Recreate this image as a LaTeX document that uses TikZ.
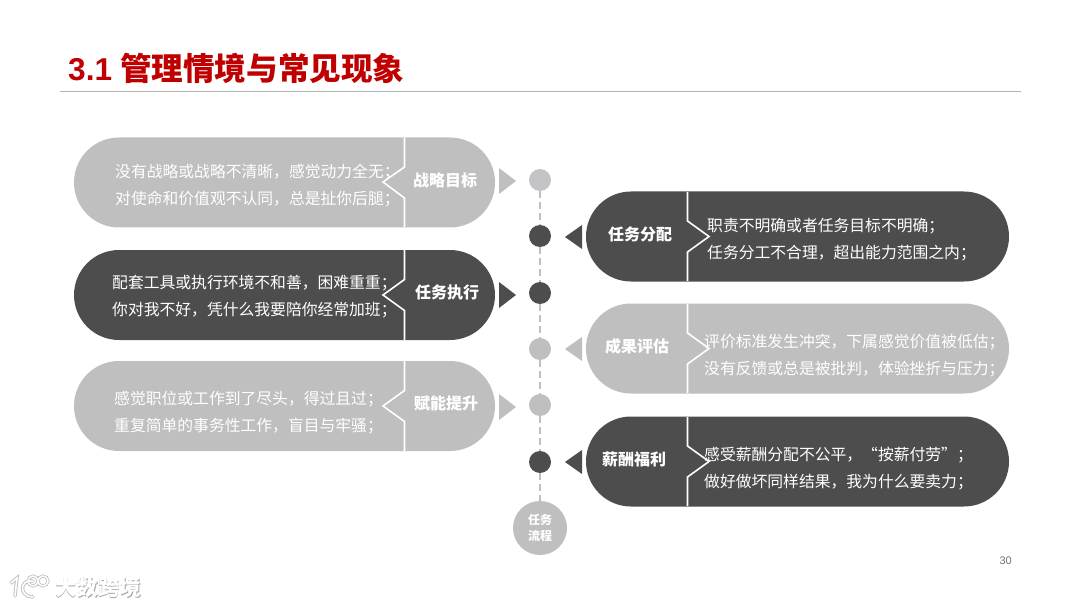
\documentclass[tikz,border=0pt]{standalone}
\usepackage{fontspec}
\setmainfont{Noto Sans CJK SC}
\newfontfamily\latinfont{Liberation Sans}
\usetikzlibrary{shapes.misc}
\definecolor{pilldark}{HTML}{4D4D4D}
\definecolor{pilllight}{HTML}{BFBFBF}
\definecolor{dotlight}{HTML}{C4C4C8}
\definecolor{titlered}{HTML}{C00000}
\tikzset{
  pill/.style={rounded rectangle, minimum width=421pt, minimum height=90pt, inner sep=0pt},
  dot/.style={circle, minimum size=22pt, inner sep=0pt},
  bodytext/.style={text=white, align=left, font=\fontsize{15.8pt}{27pt}\selectfont, inner sep=0pt},
  tagtext/.style={text=white, align=center, font=\fontsize{16pt}{20pt}\selectfont\bfseries, inner sep=0pt},
  notch/.style={white, line width=1.6pt},
  marktext/.style={align=center, font=\fontsize{21.5pt}{24pt}\selectfont\bfseries, inner sep=0pt},
  flowline/.style={pilllight, line width=1.5pt, dash pattern=on 7pt off 4pt}
}
\begin{document}
\begin{tikzpicture}[x=1pt, y=-1pt]
\useasboundingbox (0,0) rectangle (1080,607);
\fill[white] (0,0) rectangle (1080,607);

\node[anchor=west, text=titlered, font=\fontsize{31.6pt}{34pt}\selectfont\bfseries, inner sep=0pt] at (68,68) (title) {{\latinfont 3.1}\hspace{8pt}管理情境与常见现象};
\coordinate (ruleleft) at (60,91.5);
\coordinate (ruleright) at (1021,91.5);
\draw[color=black!30, line width=1pt] (ruleleft) -- (ruleright);

\node[dot, fill=dotlight] at (540,180) (dota) {};
\node[dot, fill=pilldark] at (540,236) (dotb) {};
\node[dot, fill=pilldark] at (540,293) (dotc) {};
\node[dot, fill=pilllight] at (540,349) (dotd) {};
\node[dot, fill=pilllight] at (540,405) (dote) {};
\node[dot, fill=pilldark] at (540,462) (dotf) {};
\node[circle, fill=pilllight, minimum size=54pt, tagtext, inner sep=0pt, font=\fontsize{12pt}{16pt}\selectfont\bfseries] at (540,528) (flow) {任务\\流程};

\draw[flowline] (dota) -- (dotb);
\draw[flowline] (dotb) -- (dotc);
\draw[flowline] (dotc) -- (dotd);
\draw[flowline] (dotd) -- (dote);
\draw[flowline] (dote) -- (dotf);
\draw[flowline] (dotf) -- (flow);

\fill[pilllight] (499,168) -- (516,181) -- (499,194) -- cycle;
\fill[pilldark] (499,282) -- (516,295) -- (499,308) -- cycle;
\fill[pilllight] (499,394) -- (516,407) -- (499,420) -- cycle;
\fill[pilldark] (582,225) -- (565,237) -- (582,249) -- cycle;
\fill[pilllight] (582,337) -- (565,349) -- (582,361) -- cycle;
\fill[pilldark] (582,450) -- (565,462) -- (582,474) -- cycle;

\node[pill, fill=pilllight] at (284.5,182.5) (goalpill) {};
\draw[notch] (404.5,137.5) -- (404.5,167) -- (383,182) -- (404.5,198) -- (404.5,227.5);
\node[bodytext, anchor=west] at (115,185.5) (goaltext) {没有战略或战略不清晰，感觉动力全无；\\对使命和价值观不认同，总是扯你后腿；};
\node[tagtext] at (445,180) (goaltag) {战略目标};

\node[pill, fill=pilldark] at (284.5,295) (dotaskpill) {};
\draw[notch] (404.5,250) -- (404.5,279.5) -- (383,295) -- (404.5,310.5) -- (404.5,340);
\node[bodytext, anchor=west] at (112,297) (dotasktext) {配套工具或执行环境不和善，困难重重；\\你对我不好，凭什么我要陪你经常加班；};
\node[tagtext] at (447,292.5) (dotasktag) {任务执行};

\node[pill, fill=pilllight] at (284.5,406) (growpill) {};
\draw[notch] (404.5,361) -- (404.5,390.5) -- (383,406) -- (404.5,421.5) -- (404.5,451);
\node[bodytext, anchor=west] at (114,413) (growtext) {感觉职位或工作到了尽头，得过且过；\\重复简单的事务性工作，盲目与牢骚；};
\node[tagtext] at (446,403.5) (growtag) {赋能提升};

\node[pill, fill=pilldark, minimum width=423pt] at (797.5,236.5) (assignpill) {};
\draw[notch] (687.5,192) -- (687.5,221) -- (709,236.5) -- (687.5,252) -- (687.5,281);
\node[bodytext, anchor=west] at (707,240) (assigntext) {职责不明确或者任务目标不明确；\\任务分工不合理，超出能力范围之内；};
\node[tagtext] at (640,234.5) (assigntag) {任务分配};

\node[pill, fill=pilllight, minimum width=423pt] at (797.5,348.5) (resultpill) {};
\draw[notch] (687.5,304) -- (687.5,333) -- (709,348.5) -- (687.5,364) -- (687.5,393);
\node[bodytext, anchor=west] at (704,356) (resulttext) {评价标准发生冲突，下属感觉价值被低估；\\没有反馈或总是被批判，体验挫折与压力；};
\node[tagtext] at (637,346.5) (resulttag) {成果评估};

\node[pill, fill=pilldark, minimum width=423pt] at (797.5,461.5) (paypill) {};
\draw[notch] (687.5,417) -- (687.5,446) -- (709,461.5) -- (687.5,477) -- (687.5,506);
\node[bodytext, anchor=west] at (704,469) (paytext) {感受薪酬分配不公平，“按薪付劳”；\\做好做坏同样结果，我为什么要卖力；};
\node[tagtext] at (634,459.5) (paytag) {薪酬福利};

\node[anchor=east, text=black!55, font=\fontsize{11pt}{13pt}\latinfont, inner sep=0pt] at (1012,561) (pagenum) {30};

\draw[black!25, line width=3.4pt, line cap=round] (11,583) -- (17,578) -- (15,596);
\draw[black!25, line width=3.4pt, line cap=round] (33,581) .. controls (19,579) and (19,597) .. (33,597);
\draw[black!25, line width=3pt] (33,581) circle (5pt) (43,581) circle (5pt);
\draw[white, line width=1.6pt, line cap=round] (11,583) -- (17,578) -- (15,596);
\draw[white, line width=1.6pt, line cap=round] (33,581) .. controls (19,579) and (19,597) .. (33,597);
\draw[white, line width=1.4pt] (33,581) circle (5pt) (43,581) circle (5pt);
\node[anchor=west, text=black!35, marktext] at (55.8,588.3) (markshade) {大数跨境};
\node[anchor=west, text=white, marktext] at (55,587.5) (marktag) {大数跨境};
\end{tikzpicture}
\end{document}
